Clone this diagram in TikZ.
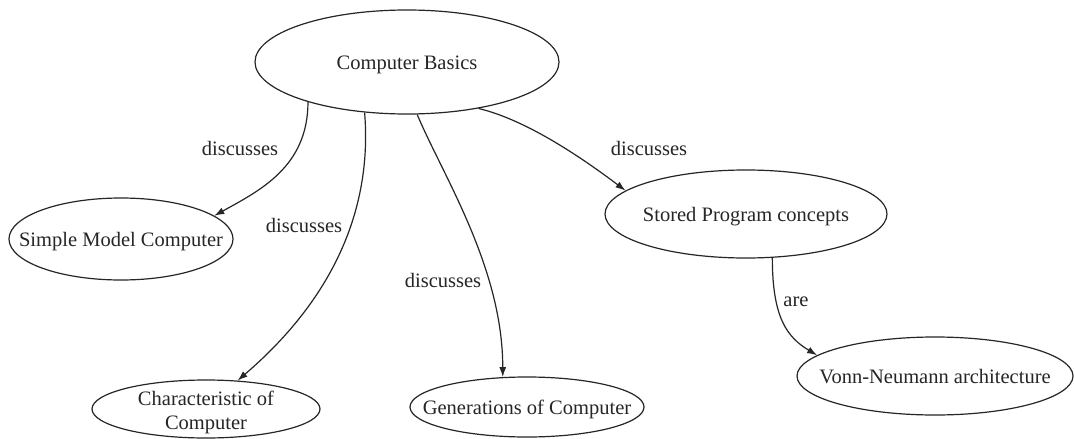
\documentclass[tikz,border=0pt]{standalone}
\usepackage{fontspec}
\setmainfont{Liberation Serif}
\usetikzlibrary{shapes.geometric,arrows.meta}
% text that does not widen its ellipse
\newcommand{\inner}[1]{\makebox[0pt]{\smash{\raisebox{-7.5pt}{#1}}}}
\newcommand{\innertwo}[2]{\makebox[0pt]{\smash{\raisebox{-8.7pt}{\begin{tabular}{@{}c@{}}#1\\[-1pt]#2\end{tabular}}}}}
\begin{document}
\begin{tikzpicture}[x=1pt,y=-1pt,
  concept/.style={ellipse,draw=black!85,line width=1.2pt,inner sep=0pt,
    text=black!85,font=\fontsize{20.5}{25}\selectfont},
  link/.style={draw=black!85,line width=1.2pt,-{Latex[length=10pt,width=7pt]}},
  rel/.style={text=black!85,font=\fontsize{20.5}{24}\selectfont,inner sep=0pt}]
\useasboundingbox[fill=white] (0,0) rectangle (1074,439);

% concepts
\node[concept,minimum width=304pt,minimum height=104pt] (cb)   at (407,62)  {\inner{Computer Basics}};
\node[concept,minimum width=224pt,minimum height=82pt]  (smc)  at (121,239) {\inner{Simple Model Computer}};
\node[concept,minimum width=228pt,minimum height=58pt]  (char) at (206,409) {\innertwo{Characteristic of}{Computer}};
\node[concept,minimum width=234pt,minimum height=60pt]  (gen)  at (527,407) {\inner{Generations of Computer}};
\node[concept,minimum width=282pt,minimum height=88pt]  (spc)  at (746,214) {\inner{Stored Program concepts}};
\node[concept,minimum width=276pt,minimum height=78pt]  (vn)   at (935,376) {\inner{Vonn-Neumann architecture}};

% relations
\draw[link] (cb.202) .. controls +(0,65) and +(45,-25) .. (smc.14);
\draw[link] (cb.230) .. controls +(7,85) and +(105,-90) .. (char.42);
\draw[link] (cb.281) .. controls +(25,60) and +(0,-110) .. (gen.129);
\draw[link] (cb.327) .. controls +(50,12) and +(-40,-30) .. (spc.169);
\draw[link] (spc.301) .. controls +(0,60) and +(-30,-18) .. (vn.170);

% relation labels
\node[rel] (l1) at (240,148) {discusses};
\node[rel] (l2) at (304,225) {discusses};
\node[rel] (l3) at (443,280) {discusses};
\node[rel] (l4) at (649,148) {discusses};
\node[rel] (l5) at (796,302) {are};
\end{tikzpicture}
\end{document}
